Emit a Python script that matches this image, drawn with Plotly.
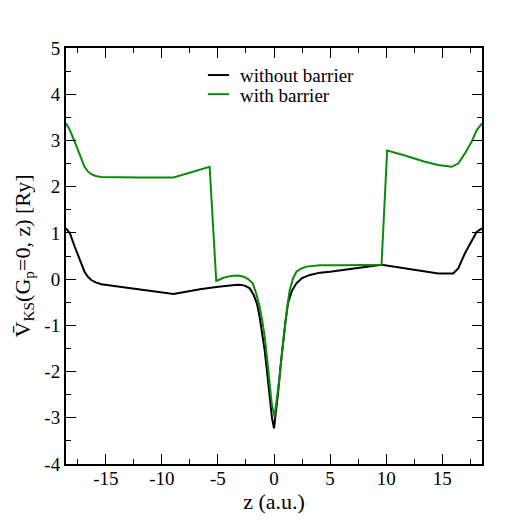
import plotly.graph_objects as go

# without barrier
z_black = [-18.55, -18.2, -17.77, -17.32, -16.9, -16.6, -16.3, -15.9, -15.4, -13.6,
           -11.0, -8.96, -6.6, -5.15, -3.5, -3.06, -2.6, -2.17, -1.8, -1.5, -1.28,
           -1.05, -0.83, -0.6, -0.38, -0.18, 0.0, 0.18, 0.36, 0.58, 0.8, 1.02, 1.25,
           1.6, 2.0, 2.5, 3.2, 4.1, 5.0, 7.0, 9.6, 11.2, 13.45, 14.64, 15.98, 16.43,
           17.03, 17.62, 18.07, 18.55]
v_black = [1.1, 0.99, 0.70, 0.41, 0.16, 0.05, -0.02, -0.07, -0.11, -0.17,
           -0.25, -0.32, -0.22, -0.17, -0.13, -0.12, -0.14, -0.2, -0.35, -0.55, -0.82,
           -1.15, -1.54, -2.05, -2.62, -3.0, -3.23, -2.9, -2.47, -1.9, -1.39, -0.92, -0.52,
           -0.25, -0.09, 0.02, 0.09, 0.14, 0.16, 0.22, 0.31, 0.25, 0.16, 0.12, 0.12, 0.23,
           0.56, 0.81, 1.02, 1.1]

# with barrier
z_green = [-18.55, -18.2, -17.77, -17.32, -16.9, -16.6, -16.3, -15.9, -15.4, -12.0,
           -8.96, -5.74, -5.15, -4.5, -3.8, -3.2, -2.7, -2.3, -1.9, -1.6, -1.28,
           -1.05, -0.83, -0.6, -0.4, -0.2, 0.05, 0.25, 0.5, 0.73, 0.96, 1.18, 1.4,
           1.7, 2.0, 2.45, 2.9, 4.1, 6.0, 9.59, 10.09, 11.6, 13.45, 14.64, 15.84,
           16.43, 17.03, 17.62, 18.07, 18.55]
v_green = [3.37, 3.22, 2.97, 2.68, 2.43, 2.33, 2.27, 2.23, 2.21, 2.2,
           2.2, 2.43, -0.04, 0.03, 0.07, 0.08, 0.05, 0.0, -0.09, -0.3, -0.6,
           -0.9, -1.25, -1.75, -2.25, -2.7, -2.98, -2.6, -2.11, -1.55, -1.03, -0.6, -0.24,
           0.02, 0.16, 0.23, 0.27, 0.3, 0.3, 0.31, 2.78, 2.68, 2.54, 2.47, 2.43,
           2.5, 2.72, 2.97, 3.22, 3.37]

series_names = ["without barrier", "with barrier"]
series_colors = ["black", "#0a8c0a"]

x_tickvals = [-15, -10, -5, 0, 5, 10, 15]
x_ticktext = ["-15", "-10", "-5", "0", "5", "10", "15"]
y_tickvals = [-4, -3, -2, -1, 0, 1, 2, 3, 4, 5]
y_ticktext = ["-4", "-3", "-2", "-1", "0", "1", "2", "3", "4", "5"]

serif = "Liberation Serif, Times New Roman, serif"

fig = go.Figure()
for zs, vs, name, col in [(z_black, v_black, series_names[0], series_colors[0]),
                          (z_green, v_green, series_names[1], series_colors[1])]:
    fig.add_trace(go.Scatter(x=zs, y=vs, mode="lines", name=name,
                             line=dict(color=col, width=2), showlegend=False))

axis_common = dict(showline=True, linecolor="black", linewidth=2, mirror="ticks",
                   ticks="inside", ticklen=10, tickwidth=1.3, tickcolor="black",
                   showgrid=False, zeroline=False,
                   tickfont=dict(family=serif, size=19, color="black"))

fig.update_xaxes(range=[-18.55, 18.55], tickvals=x_tickvals, ticktext=x_ticktext,
                 ticklabelstandoff=-4,
                 minor=dict(dtick=2.5, tick0=0, ticks="inside", ticklen=5, tickcolor="black", tickwidth=1.3),
                 title=dict(text="z (a.u.)", font=dict(family=serif, size=22, color="black"), standoff=0),
                 **axis_common)
fig.update_yaxes(range=[-4, 5], tickvals=y_tickvals, ticktext=y_ticktext,
                 minor=dict(dtick=0.5, tick0=0, ticks="inside", ticklen=5, tickcolor="black", tickwidth=1.3),
                 title=dict(text="V\u0304<sub>KS</sub>(G<sub>p</sub>=0, z) [Ry]",
                            font=dict(family=serif, size=22, color="black"), standoff=8),
                 **axis_common)

# manual legend (paper coordinates)
leg_line_x = (0.341, 0.392)
leg_text_x = 0.413
leg_rows_y = [0.935, 0.889]
for name, col, yy in zip(series_names, series_colors, leg_rows_y):
    fig.add_shape(type="line", xref="paper", yref="paper",
                  x0=leg_line_x[0], x1=leg_line_x[1], y0=yy, y1=yy,
                  line=dict(color=col, width=2))
    fig.add_annotation(xref="paper", yref="paper", x=leg_text_x, y=yy - 0.002,
                       text=name, showarrow=False, xanchor="left", yanchor="middle",
                       font=dict(family=serif, size=19, color="black"))

fig.update_layout(
    width=508, height=531,
    margin=dict(l=66, r=26, t=48, b=67),
    plot_bgcolor="white", paper_bgcolor="white",
    showlegend=False,
)

fig.write_html("out.html")
